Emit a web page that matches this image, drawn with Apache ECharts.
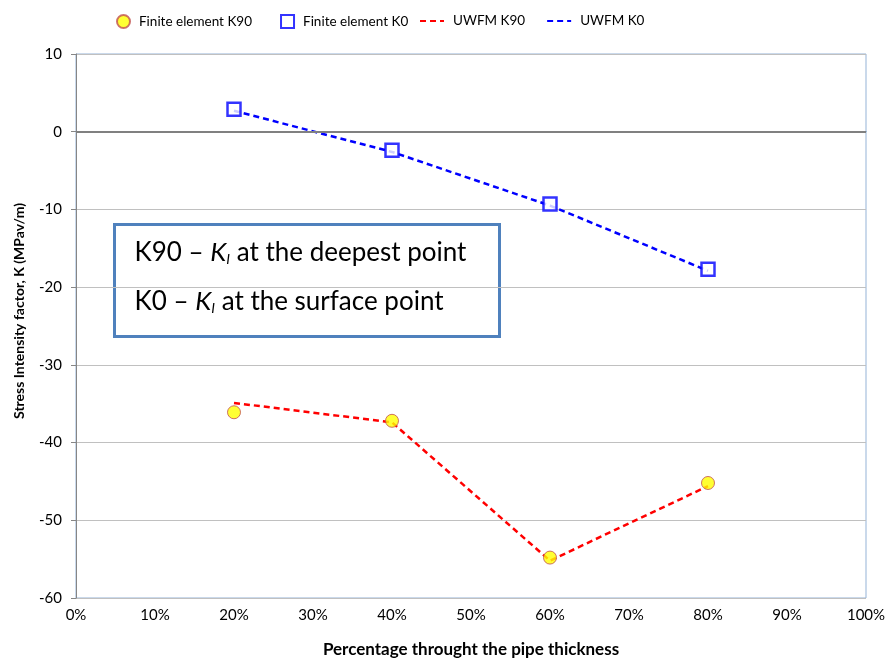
<!DOCTYPE html>
<html>
<head>
<meta charset="utf-8">
<script src="https://cdn.jsdelivr.net/npm/echarts@6/dist/echarts.min.js"></script>
<style>
  html, body { margin: 0; padding: 0; background: #fff; }
  #chart { width: 888px; height: 662px; }
</style>
</head>
<body>
<div id="chart"></div>
<script>
var depth = [20, 40, 60, 80];            // % through the pipe thickness
var feK90 = [-36.1, -37.2, -54.8, -45.2];
var feK0 = [2.9, -2.4, -9.3, -17.7];
var uwfmK90 = [-34.9, -37.4, -55.2, -45.6];
var uwfmK0 = [2.7, -2.6, -9.5, -17.9];

var FONT = 'Lato';

function pairs(xs, ys) {
  return xs.map(function (x, i) { return [x, ys[i]]; });
}

var chart = echarts.init(document.getElementById('chart'));

var legendText = { fontFamily: FONT, fontSize: 13.5, color: '#000', padding: [0, 0, 0, 4] };

var option = {
  backgroundColor: '#fff',
  animation: false,
  textStyle: { fontFamily: FONT },
  legend: [
    {
      // marker entries
      top: 9,
      left: 111,
      itemGap: 28,
      itemWidth: 13,
      itemHeight: 13,
      textStyle: legendText,
      data: [
        { name: 'Finite element K90', icon: 'circle' },
        { name: 'Finite element K0', icon: 'rect' }
      ]
    },
    {
      // line entries
      top: 9,
      left: 414,
      itemGap: 21,
      itemWidth: 24,
      itemHeight: 13,
      textStyle: legendText,
      data: [
        { name: 'UWFM K90', itemStyle: { opacity: 0 } },
        { name: 'UWFM K0', itemStyle: { opacity: 0 } }
      ]
    }
  ],
  grid: {
    left: 76, right: 22, top: 54, bottom: 64,
    outerBoundsMode: 'none',
    containLabel: false,
    show: true,
    borderColor: '#95B3D7',
    borderWidth: 1
  },
  xAxis: {
    type: 'value',
    min: 0, max: 100, interval: 10,
    name: 'Percentage throught the pipe thickness',
    nameLocation: 'middle',
    nameGap: 43,
    nameTextStyle: { fontFamily: FONT, fontSize: 17, fontWeight: 'bold', color: '#000' },
    axisLine: { show: true, lineStyle: { color: '#4F81BD', width: 1 } },
    axisTick: { show: false },
    splitLine: { show: false },
    axisLabel: { formatter: '{value}%', fontFamily: FONT, fontSize: 15, color: '#000', margin: 10 }
  },
  yAxis: {
    type: 'value',
    min: -60, max: 10, interval: 10,
    name: 'Stress Intensity factor, K (MPav/m)',
    nameLocation: 'middle',
    nameGap: 50,
    nameTextStyle: { fontFamily: FONT, fontSize: 14, fontWeight: 'bold', color: '#000', padding: [0, 0, 0, 30] },
    axisLine: { show: true, lineStyle: { color: '#868686', width: 1 } },
    axisTick: { show: true, inside: false, length: 5, lineStyle: { color: '#868686' } },
    splitLine: { show: true, lineStyle: { color: '#C0C0C0', width: 1 } },
    axisLabel: { fontFamily: FONT, fontSize: 15, color: '#000', margin: 14 }
  },
  series: [
    {
      name: 'UWFM K90',
      type: 'line',
      data: pairs(depth, uwfmK90),
      symbol: 'none',
      z: 2,
      lineStyle: { color: '#FF0000', width: 2.5, type: [6, 4] },
      itemStyle: { color: '#FF0000' }
    },
    {
      name: 'UWFM K0',
      type: 'line',
      data: pairs(depth, uwfmK0),
      symbol: 'none',
      z: 2,
      lineStyle: { color: '#0000FF', width: 2.5, type: [6, 4] },
      itemStyle: { color: '#0000FF' },
      markLine: {
        silent: true,
        symbol: 'none',
        label: { show: false },
        lineStyle: { color: '#808080', width: 2, type: 'solid' },
        data: [{ yAxis: 0 }]
      }
    },
    {
      name: 'Finite element K90',
      type: 'scatter',
      data: pairs(depth, feK90),
      symbol: 'circle',
      symbolSize: 13,
      z: 5,
      itemStyle: { color: '#FFFF00', borderColor: '#C0504D', borderWidth: 1 }
    },
    {
      name: 'Finite element K0',
      type: 'scatter',
      data: pairs(depth, feK0),
      symbol: 'rect',
      symbolSize: 13,
      z: 5,
      itemStyle: { color: '#FFFFFF', borderColor: '#0000FF', borderWidth: 2.5 }
    }
  ],
  graphic: [
    {
      type: 'group',
      left: 113,
      top: 223,
      z: 10,
      children: [
        {
          type: 'rect',
          shape: { x: 0, y: 0, width: 385, height: 112 },
          style: { fill: '#fff', stroke: '#4F81BD', lineWidth: 3 }
        },
        {
          type: 'text',
          x: 20,
          y: 14,
          style: {
            text: 'K90 – {i|K}{s|I} at the deepest point',
            fontFamily: FONT,
            fontSize: 26,
            lineHeight: 28,
            fill: '#000',
            rich: {
              i: { fontFamily: FONT, fontSize: 26, fontStyle: 'italic', fill: '#000', lineHeight: 28 },
              s: { fontFamily: FONT, fontSize: 14, fontStyle: 'italic', fill: '#000', lineHeight: 14, verticalAlign: 'bottom' }
            }
          }
        },
        {
          type: 'text',
          x: 20,
          y: 63,
          style: {
            text: 'K0 – {i|K}{s|I} at the surface point',
            fontFamily: FONT,
            fontSize: 26,
            lineHeight: 28,
            fill: '#000',
            rich: {
              i: { fontFamily: FONT, fontSize: 26, fontStyle: 'italic', fill: '#000', lineHeight: 28 },
              s: { fontFamily: FONT, fontSize: 14, fontStyle: 'italic', fill: '#000', lineHeight: 14, verticalAlign: 'bottom' }
            }
          }
        }
      ]
    }
  ]
};

chart.setOption(option);
</script>
</body>
</html>
